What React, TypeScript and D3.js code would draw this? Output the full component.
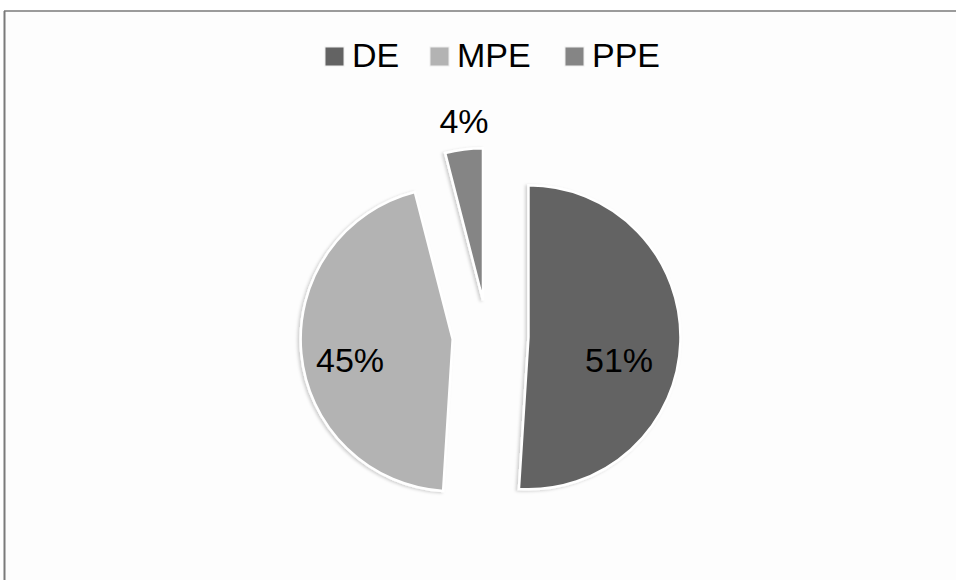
import React from "react";
import * as d3 from "d3";

const categories = ["DE", "MPE", "PPE"];
const values = [51, 45, 4];
const labels = ["51%", "45%", "4%"];
const colors = ["#636363", "#b3b3b3", "#858585"];
const explode = [41, 35, 36];

export default function App() {
  const W = 956, H = 580;
  const cx = 487.5, cy = 336, R = 152;
  const pie = d3.pie<number>().sort(null).value((d) => d).startAngle(0).endAngle(2 * Math.PI);
  const arcs = pie(values);
  const arc = d3.arc<d3.PieArcDatum<number>>().innerRadius(0).outerRadius(R);
  const labelPos = [
    [619, 372],
    [350, 372],
    [464, 133],
  ];
  const legendX = [325, 430, 565];
  return (
    <svg width={W} height={H} style={{ position: "fixed", left: 0, top: 0, background: "#fff" }}>
      <defs>
        <filter id="sh" x="-20%" y="-20%" width="140%" height="140%">
          <feDropShadow dx="-2" dy="1" stdDeviation="1.5" floodColor="#000" floodOpacity="0.18" />
        </filter>
      </defs>
      <rect x={5} y={11} width={W} height={H} fill="#fdfdfd" />
      <line x1={4} y1={11} x2={W} y2={11} stroke="#7a7a7a" strokeWidth={1.5} />
      <line x1={4.5} y1={11} x2={4.5} y2={H} stroke="#7a7a7a" strokeWidth={2} />
      {arcs.map((a, i) => {
        const mid = (a.startAngle + a.endAngle) / 2;
        const dx = explode[i] * Math.sin(mid);
        const dy = -explode[i] * Math.cos(mid);
        return (
          <g key={categories[i]} transform={`translate(${cx + dx},${cy + dy})`}>
            <path d={arc(a) || ""} fill={colors[i]} stroke="#fff" strokeWidth={2.5} filter="url(#sh)" />
          </g>
        );
      })}
      {labels.map((t, i) => (
        <text key={t} x={labelPos[i][0]} y={labelPos[i][1]} textAnchor="middle"
          fontFamily="Liberation Sans, Arial, sans-serif" fontSize={34} fill="#000">{t}</text>
      ))}
      {categories.map((c, i) => (
        <g key={c}>
          <rect x={legendX[i]} y={47} width={19} height={19} fill={colors[i]} stroke="#eee" strokeWidth={1} />
          <text x={legendX[i] + 27} y={67} fontFamily="Liberation Sans, Arial, sans-serif" fontSize={34} fill="#000">{c}</text>
        </g>
      ))}
    </svg>
  );
}
